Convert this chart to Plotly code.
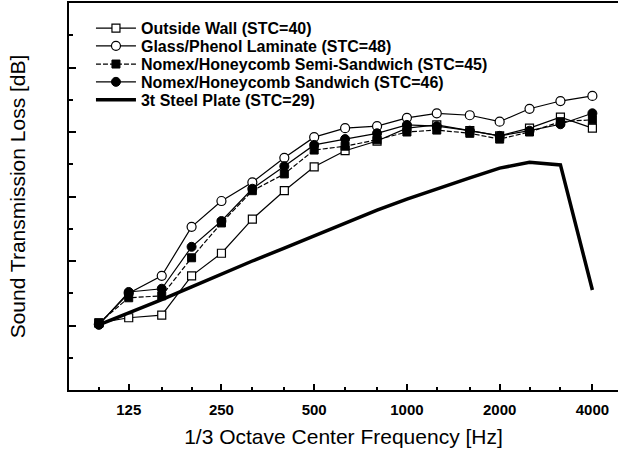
import math
import plotly.graph_objects as go

freqs = [100, 125, 160, 200, 250, 315, 400, 500, 630, 800, 1000, 1250, 1600, 2000, 2500, 3150, 4000]
tick_labels = ["125", "250", "500", "1000", "2000", "4000"]
tick_freqs = [125, 250, 500, 1000, 2000, 4000]
minor_freqs = [100, 160, 200, 315, 400, 630, 800, 1250, 1600, 2500, 3150]

outside_wall = [20.4, 21.2, 21.6, 27.7, 31.2, 36.5, 40.9, 44.6, 47.1, 48.6, 50.6, 51.1, 50.2, 49.4, 50.6, 52.3, 50.6]
glass_phenol = [20.2, 25.0, 27.7, 35.3, 39.3, 42.2, 46.0, 49.2, 50.6, 50.9, 52.2, 52.9, 52.6, 51.6, 53.6, 54.8, 55.6]
nomex_semi = [20.4, 24.3, 24.6, 30.5, 35.9, 40.9, 43.5, 47.2, 47.8, 48.8, 50.0, 50.3, 49.8, 48.9, 50.0, 51.6, 51.9]
nomex_sandwich = [20.1, 25.2, 25.7, 32.2, 36.2, 41.2, 44.7, 48.0, 48.9, 49.8, 51.1, 50.9, 50.2, 49.4, 50.2, 51.2, 52.9]
steel_plate = [20.1, 21.9, 24.0, 26.0, 28.0, 30.0, 32.0, 33.9, 35.9, 37.9, 39.6, 41.2, 42.9, 44.4, 45.3, 44.9, 25.5]

series_names = ["Outside Wall (STC=40)", "Glass/Phenol Laminate (STC=48)",
                "Nomex/Honeycomb Semi-Sandwich (STC=45)", "Nomex/Honeycomb Sandwich (STC=46)",
                "3t Steel Plate (STC=29)"]

FONT = "Liberation Sans, Arial, Helvetica, sans-serif"
legend_ids = ["legend", "legend2", "legend3", "legend4", "legend5"]
legend_rows_y = [0.935, 0.889, 0.842, 0.796, 0.750]

fig = go.Figure()
fig.add_trace(go.Scatter(
    x=freqs, y=outside_wall, mode="lines+markers", name=series_names[0], legend=legend_ids[0],
    line=dict(color="black", width=1.2),
    marker=dict(symbol="square", size=8, color="white", line=dict(color="black", width=1.2))))
fig.add_trace(go.Scatter(
    x=freqs, y=glass_phenol, mode="lines+markers", name=series_names[1], legend=legend_ids[1],
    line=dict(color="black", width=1.2),
    marker=dict(symbol="circle", size=9, color="white", line=dict(color="black", width=1.2))))
fig.add_trace(go.Scatter(
    x=freqs, y=nomex_semi, mode="lines+markers", name=series_names[2], legend=legend_ids[2],
    line=dict(color="black", width=1.2, dash="5px,2px"),
    marker=dict(symbol="square", size=8, color="black", line=dict(color="black", width=1))))
fig.add_trace(go.Scatter(
    x=freqs, y=nomex_sandwich, mode="lines+markers", name=series_names[3], legend=legend_ids[3],
    line=dict(color="black", width=1.2),
    marker=dict(symbol="circle", size=9, color="black", line=dict(color="black", width=1))))
fig.add_trace(go.Scatter(
    x=freqs, y=steel_plate, mode="lines", name=series_names[4], legend=legend_ids[4],
    line=dict(color="black", width=3.5)))

legend_common = dict(
    x=0.04, xanchor="left", yanchor="middle",
    bgcolor="rgba(0,0,0,0)", borderwidth=0,
    font=dict(family=FONT, size=16, weight="bold", color="black"),
    itemwidth=40,
)
layout_legends = {lid: dict(legend_common, y=ly) for lid, ly in zip(legend_ids, legend_rows_y)}

fig.update_layout(
    width=618, height=449,
    margin=dict(l=69, r=0, t=3, b=59),
    paper_bgcolor="white", plot_bgcolor="white",
    font=dict(family=FONT, color="black"),
    showlegend=True,
    **layout_legends,
    xaxis=dict(
        type="log",
        range=[math.log10(80), math.log10(4844)],
        automargin=False,
        tickmode="array", tickvals=tick_freqs, ticktext=tick_labels,
        ticks="inside", ticklen=6, tickwidth=2, tickcolor="black",
        ticklabelstandoff=5,
        tickfont=dict(family=FONT, size=15, weight="bold", color="black"),
        showline=True, linecolor="black", linewidth=2, mirror=True,
        showgrid=False, zeroline=False,
        minor=dict(tickmode="array", tickvals=minor_freqs, ticks="inside",
                   ticklen=3, tickwidth=2, tickcolor="black", showgrid=False),
        title=dict(text="1/3 Octave Center Frequency [Hz]",
                   font=dict(family=FONT, size=21, color="black"), standoff=12),
    ),
    yaxis=dict(
        range=[10, 70],
        automargin=False,
        tickmode="array", tickvals=[10, 20, 30, 40, 50, 60, 70],
        ticks="inside", ticklen=7, tickwidth=2, tickcolor="black",
        showticklabels=False,
        showline=True, linecolor="black", linewidth=2, mirror=False,
        showgrid=False, zeroline=False,
        minor=dict(tickmode="array", tickvals=[15, 25, 35, 45, 55, 65], ticks="inside",
                   ticklen=4, tickwidth=2, tickcolor="black", showgrid=False),
        title=dict(text="Sound Transmission Loss [dB]",
                   font=dict(family=FONT, size=21, color="black"), standoff=36),
    ),
)

fig.write_html(
    "out.html",
    config={"displayModeBar": False},
    post_script="document.body.style.margin='0';document.body.style.overflow='hidden';",
)
